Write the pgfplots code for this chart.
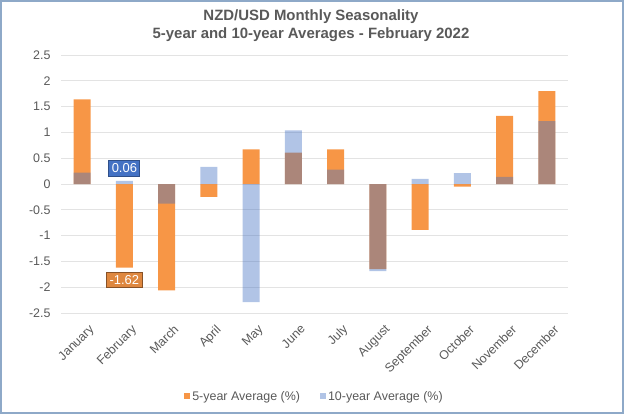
\documentclass[border=0pt]{standalone}
\usepackage{pgfplots}
\pgfplotsset{compat=1.18}
\usepackage{fontspec}
\setmainfont{Liberation Sans}

\definecolor{fiveyr}{HTML}{F79646}
\definecolor{tenyr}{HTML}{4472C4}
\definecolor{txtgray}{HTML}{595959}
\definecolor{gridgray}{HTML}{E3E3E3}
\definecolor{framecol}{HTML}{8EA9C8}

% 5-year and 10-year averages (%), months 0..11
\pgfplotstableread{
x  five   ten
0   1.64   0.22
1  -1.62   0.06
2  -2.06  -0.38
3  -0.25   0.33
4   0.67  -2.29
5   0.61   1.04
6   0.67   0.28
7  -1.65  -1.69
8  -0.89   0.10
9  -0.05   0.21
10  1.32   0.14
11  1.80   1.22
}\seasondata

\begin{document}
\begin{tikzpicture}[x=1bp,y=1bp]
  \path[use as bounding box] (0,0) rectangle (624,414);

  \begin{axis}[
      anchor=south west,
      at={(61bp,101bp)},
      scale only axis,
      width=507bp,
      height=258bp,
      xmin=-0.5, xmax=11.5,
      ymin=-2.5, ymax=2.5,
      ytick={-2.5,-2,...,2.5},
      xtick={0,...,11},
      xticklabels={January,February,March,April,May,June,July,August,September,October,November,December},
      axis line style={draw=none},
      major tick length=0pt,
      ymajorgrids,
      grid style={gridgray, line width=1bp},
      tick label style={font=\fontsize{12.5}{14}\selectfont, text=txtgray},
      /pgf/number format/assume math mode=true,
      yticklabel style={anchor=east, xshift=-7bp},
      xticklabel style={rotate=45, anchor=north east, inner sep=0bp, xshift=-3bp, yshift=-12bp},
      ybar, bar width=17bp, bar shift=0pt,
      legend style={at={(0.5,-0.3227)}, anchor=center, draw=none, fill=none,
        font=\fontsize{12.5}{14}\selectfont, text=txtgray, legend columns=2,
        /tikz/every even column/.append style={column sep=18bp}},
      legend image code/.code={\fill[#1] (0bp,-3bp) rectangle (6bp,3bp);},
      clip=false,
    ]
    \addplot[fill=fiveyr, draw=none] table[x=x, y=five] {\seasondata};
    \addlegendentry{5-year Average (\%)}
    \addplot[fill=tenyr, fill opacity=0.42, draw=none] table[x=x, y=ten] {\seasondata};
    \addlegendentry{10-year Average (\%)}

    \node[fill=tenyr, draw=tenyr!70!black, line width=1bp, text=white, inner sep=3bp,
      font=\fontsize{13}{15}\selectfont] at (axis cs:1,0.30) {0.06};
    \node[fill=fiveyr!90!black, draw=fiveyr!55!black, line width=1bp, text=white, inner sep=3bp,
      font=\fontsize{13}{15}\selectfont] at (axis cs:1,-1.86) {-1.62};
  \end{axis}

  \node[font=\bfseries\fontsize{15}{17}\selectfont, text=txtgray] at (311,397.3) {NZD/USD Monthly Seasonality};
  \node[font=\bfseries\fontsize{15}{17}\selectfont, text=txtgray] at (311,379.7) {5-year and 10-year Averages - February 2022};

  \draw[framecol, line width=2bp] (1,1) rectangle (623,413);
\end{tikzpicture}
\end{document}
